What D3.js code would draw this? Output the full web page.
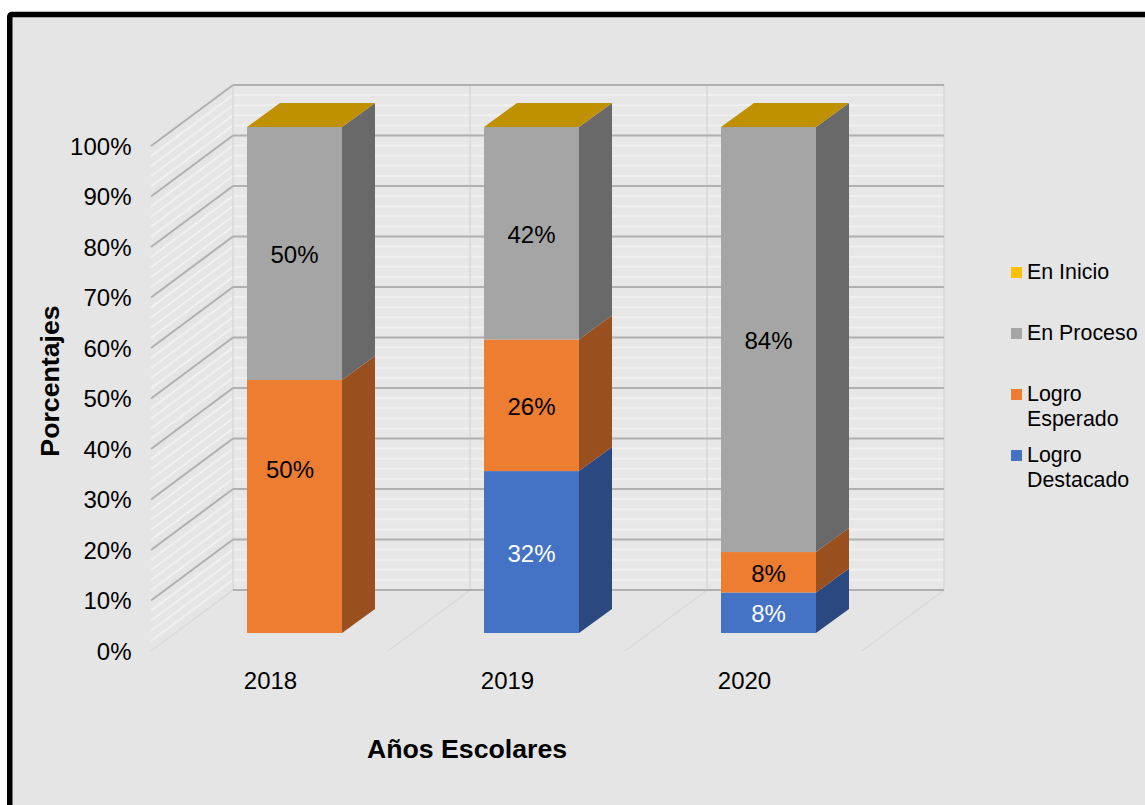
<!DOCTYPE html>
<html lang="es">
<head>
<meta charset="utf-8">
<style>
  html, body { margin: 0; padding: 0; background: #fff; overflow: hidden; }
  svg { display: block; }
  text { font-family: "Liberation Sans", Arial, sans-serif; }
</style>
</head>
<body>
<svg id="chart" width="1145" height="805"></svg>
<script src="https://cdn.jsdelivr.net/npm/d3@7"></script>
<script>
// Achievement levels by school year, stacked from the bottom up.
const years = ["2018", "2019", "2020"];
const levels = ["Logro Destacado", "Logro Esperado", "En Proceso", "En Inicio"];
const logroDestacado = [0, 32, 8];
const logroEsperado = [50, 26, 8];
const enProceso = [50, 42, 84];
const enInicio = [0, 0, 0];
const percentTicks = d3.range(0, 101, 10);
const minorTicks = d3.range(0, 101, 2).filter(t => t % 10 !== 0);

const frontColors = { "Logro Destacado": "#4472c4", "Logro Esperado": "#ed7d31", "En Proceso": "#a5a5a5", "En Inicio": "#ffc000" };
const sideColors = { "Logro Destacado": "#2b4880", "Logro Esperado": "#9a4f1e", "En Proceso": "#696969", "En Inicio": "#a67c00" };
const topColor = "#bf9000";

const svg = d3.select("#chart");

// Frame and chart area.
svg.append("rect").attr("x", 9.75).attr("y", 14.5).attr("width", 1160).attr("height", 830)
  .attr("rx", 2).attr("fill", "#e5e5e5").attr("stroke", "#000").attr("stroke-width", 5.5);

// Oblique projection: the axis plane sits on the front edge, the wall behind it.
const wallShift = { x: 82, y: -61 };
const barDepth = { x: 33, y: -24 };
const y0 = 651, y100 = 146;
const yAxis = d3.scaleLinear().domain([0, 100]).range([y0, y100]);
const xAxis = d3.scaleBand().domain(years).range([151, 862]);
const barBand = d3.scaleLinear().domain([0, 1]).range([96, 191]); // bar span within a category
const yBar = d3.scaleLinear().domain([0, 100]).range([633, 127]);

const wall = svg.append("g");
const wallX0 = xAxis.range()[0] + wallShift.x;
const wallX1 = xAxis.range()[1] + wallShift.x;

wall.append("rect").attr("x", wallX0).attr("y", yAxis(100) + wallShift.y)
  .attr("width", wallX1 - wallX0).attr("height", yAxis(0) - yAxis(100)).attr("fill", "#e7e7e7");

// Minor gridlines on the side and back walls.
minorTicks.forEach(t => {
  const yy = yAxis(t);
  wall.append("path")
    .attr("d", `M${xAxis.range()[0]},${yy}L${wallX0},${yy + wallShift.y}L${wallX1},${yy + wallShift.y}`)
    .attr("fill", "none").attr("stroke", "#f0f0f0").attr("stroke-width", 2);
});

// Category separators on the back wall and across the floor.
const separators = years.map(y => xAxis(y)).concat(xAxis.range()[1]);
separators.forEach(x => {
  wall.append("path")
    .attr("d", `M${x},${y0}L${x + wallShift.x},${y0 + wallShift.y}L${x + wallShift.x},${y100 + wallShift.y}`)
    .attr("fill", "none").attr("stroke", "#d9d9d9").attr("stroke-width", 1.5);
});

// Major gridlines.
percentTicks.forEach(t => {
  const yy = yAxis(t);
  const back = yy + wallShift.y;
  if (t > 0) {
    wall.append("line").attr("x1", xAxis.range()[0]).attr("y1", yy).attr("x2", wallX0).attr("y2", back)
      .attr("stroke", "#b2afaf").attr("stroke-width", 2);
  }
  wall.append("line").attr("x1", wallX0).attr("y1", back).attr("x2", wallX1).attr("y2", back)
    .attr("stroke", "#b2afaf").attr("stroke-width", 2);
});

// Stacked prisms.
const stackInput = years.map((y, i) => ({
  year: y,
  "Logro Destacado": logroDestacado[i],
  "Logro Esperado": logroEsperado[i],
  "En Proceso": enProceso[i],
  "En Inicio": enInicio[i]
}));
const series = d3.stack().keys(levels)(stackInput);
const labelColors = { "Logro Destacado": "#fff", "Logro Esperado": "#000", "En Proceso": "#000" };

const bars = svg.append("g");
series.forEach(s => {
  s.forEach(d => {
    const year = d.data.year;
    const left = xAxis(year) + barBand(0);
    const right = xAxis(year) + barBand(1);
    const lo = yBar(d[0]), hi = yBar(d[1]);
    if (d[1] > d[0]) {
      bars.append("rect").attr("x", left).attr("y", hi).attr("width", right - left).attr("height", lo - hi)
        .attr("fill", frontColors[s.key]);
      bars.append("path")
        .attr("d", `M${right},${lo}L${right + barDepth.x},${lo + barDepth.y}L${right + barDepth.x},${hi + barDepth.y}L${right},${hi}Z`)
        .attr("fill", sideColors[s.key]);
    }
  });
});
// The empty top segment still shows its cap on each column.
series[series.length - 1].forEach(d => {
  const left = xAxis(d.data.year) + barBand(0);
  const right = xAxis(d.data.year) + barBand(1);
  const hi = yBar(d[1]);
  bars.append("path")
    .attr("d", `M${left},${hi}L${right},${hi}L${right + barDepth.x},${hi + barDepth.y}L${left + barDepth.x},${hi + barDepth.y}Z`)
    .attr("fill", topColor);
});

// Value labels; the tall 2018 orange block carries its label above centre.
series.slice(0, 3).forEach(s => {
  s.forEach(d => {
    const v = d[1] - d[0];
    if (v <= 0) return;
    const raised = d.data.year === "2018" && s.key === "Logro Esperado";
    svg.append("text")
      .attr("x", xAxis(d.data.year) + barBand(0.5) - (raised ? 4.5 : 0))
      .attr("y", (yBar(d[0]) + yBar(d[1])) / 2 + 9.5 - (raised ? 38 : 0))
      .attr("text-anchor", "middle").attr("font-size", 24).attr("fill", labelColors[s.key])
      .text(v + "%");
  });
});

// Percentage ticks.
svg.append("g").selectAll("text").data(percentTicks).join("text")
  .attr("x", 131.5).attr("y", t => yAxis(t) + 8.5)
  .attr("text-anchor", "end").attr("font-size", 24).attr("fill", "#000")
  .text(t => t + "%");

// Year labels.
svg.append("g").selectAll("text").data(years).join("text")
  .attr("x", y => xAxis(y) + 119.5).attr("y", 688.5)
  .attr("text-anchor", "middle").attr("font-size", 24).attr("fill", "#000")
  .text(y => y);

// Axis titles.
svg.append("text").attr("x", 467).attr("y", 757.5).attr("text-anchor", "middle")
  .attr("font-size", 26.7).attr("font-weight", "bold").attr("fill", "#000").text("Años Escolares");
svg.append("text").attr("transform", "translate(58.5,381) rotate(-90)").attr("text-anchor", "middle")
  .attr("font-size", 26.7).attr("font-weight", "bold").attr("fill", "#000").text("Porcentajes");

// Legend, top of the stack first.
const legendRows = [
  { key: "En Inicio", lines: ["En Inicio"], y: 272 },
  { key: "En Proceso", lines: ["En Proceso"], y: 333 },
  { key: "Logro Esperado", lines: ["Logro", "Esperado"], y: 394 },
  { key: "Logro Destacado", lines: ["Logro", "Destacado"], y: 455 }
];
const legend = svg.append("g");
legendRows.forEach(r => {
  legend.append("rect").attr("x", 1011).attr("y", r.y - 5).attr("width", 11).attr("height", 11)
    .attr("fill", frontColors[r.key]);
  r.lines.forEach((line, i) => {
    legend.append("text").attr("x", 1027).attr("y", r.y + 7 + i * 25)
      .attr("font-size", 21.4).attr("fill", "#000").text(line);
  });
});
</script>
</body>
</html>
